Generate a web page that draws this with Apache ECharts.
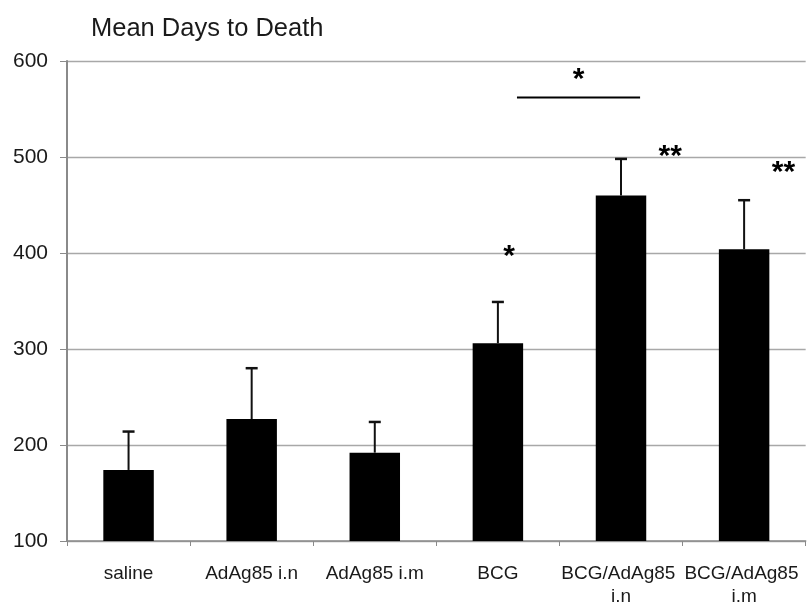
<!DOCTYPE html>
<html>
<head>
<meta charset="utf-8">
<script src="https://cdn.jsdelivr.net/npm/echarts@6/dist/echarts.min.js"></script>
<style>
html,body{margin:0;padding:0;background:#fff;}
#chart{width:807px;height:608px;}
</style>
</head>
<body>
<div id="chart"></div>
<script>
// ---- data ----
const categories = ['saline', 'AdAg85 i.n', 'AdAg85 i.m', 'BCG', 'BCG/AdAg85 i.n', 'BCG/AdAg85 i.m'];
const meanDays = [174, 227, 192, 306, 460, 404];
const errorUpper = [214, 280, 224, 349, 498, 455];
const yMin = 100, yMax = 600, yStep = 100;
// significance markers
const starCategory = [3, 4, 5];
const starValue = [396, 500, 484];
const starText = ['*', '**', '**'];
// bracket between BCG and BCG/AdAg85 i.n
const bracketFrom = 3, bracketTo = 4;
const bracketValue = 562;
const bracketStarValue = 580;
const bracketText = '*';

// ---- presentation ----
const starShift = [0.09, 0.40, 0.32];   // fraction of band width to the right
const bracketShift = 0.155;
const FONT = 'Liberation Sans, Arial, sans-serif';

const chart = echarts.init(document.getElementById('chart'));

const errData = categories.map((c, i) => [i, meanDays[i], errorUpper[i]]);
const starData = starCategory.map((c, i) => [c, starValue[i], i]);

chart.setOption({
  animation: false,
  backgroundColor: '#fff',
  title: {
    text: 'Mean Days to Death',
    left: 86, top: 11,
    textStyle: {fontFamily: FONT, fontSize: 25.5, fontWeight: 'normal', color: '#1a1a1a'}
  },
  grid: {left: 67, right: 0, top: 61, bottom: 61, containLabel: false},
  xAxis: {
    type: 'category',
    data: categories,
    axisLine: {lineStyle: {color: '#8a8a8a', width: 1.5}},
    axisTick: {show: true, length: 5, lineStyle: {color: '#8a8a8a'}},
    axisLabel: {
      fontFamily: FONT, fontSize: 19, color: '#1a1a1a', margin: 21,
      width: 120, overflow: 'break', lineHeight: 23, interval: 0
    },
    splitLine: {show: false}
  },
  yAxis: {
    type: 'value',
    min: yMin, max: yMax, interval: yStep,
    axisLine: {show: true, lineStyle: {color: '#8a8a8a', width: 2}},
    axisTick: {show: true, length: 7, lineStyle: {color: '#8a8a8a'}},
    axisLabel: {fontFamily: FONT, fontSize: 21, color: '#1a1a1a', margin: 19},
    splitLine: {show: true, lineStyle: {color: '#a8a8a8', width: 1.3}}
  },
  series: [
    {
      type: 'bar',
      data: meanDays,
      barWidth: '41%',
      itemStyle: {color: '#000'},
      z: 2
    },
    {
      type: 'custom',
      data: errData,
      z: 3,
      renderItem: function (params, api) {
        const x = api.value(0);
        const top = api.coord([x, api.value(2)]);
        const base = api.coord([x, api.value(1)]);
        const cap = 6;
        const st = {stroke: '#111', lineWidth: 2};
        return {
          type: 'group',
          children: [
            {type: 'line', shape: {x1: top[0], y1: top[1], x2: base[0], y2: base[1]}, style: st},
            {type: 'line', shape: {x1: top[0] - cap, y1: top[1], x2: top[0] + cap, y2: top[1]}, style: {stroke: '#111', lineWidth: 2.5}}
          ]
        };
      }
    },
    {
      type: 'custom',
      data: starData,
      z: 4,
      renderItem: function (params, api) {
        const idx = api.value(2);
        const p = api.coord([api.value(0), api.value(1)]);
        const bw = api.size([1, 0])[0];
        return {
          type: 'text',
          x: p[0] + starShift[idx] * bw,
          y: p[1],
          style: {text: starText[idx], fontFamily: FONT, fontSize: 30, fontWeight: 'bold', fill: '#000', align: 'center', verticalAlign: 'middle'}
        };
      }
    },
    {
      type: 'custom',
      data: [[bracketFrom, bracketValue, bracketTo, bracketStarValue]],
      z: 4,
      renderItem: function (params, api) {
        const a = api.coord([api.value(0), api.value(1)]);
        const b = api.coord([api.value(2), api.value(1)]);
        const s = api.coord([api.value(0), api.value(3)]);
        const bw = api.size([1, 0])[0];
        const x1 = a[0] + bracketShift * bw, x2 = b[0] + bracketShift * bw;
        return {
          type: 'group',
          children: [
            {type: 'line', shape: {x1: x1, y1: a[1], x2: x2, y2: a[1]}, style: {stroke: '#000', lineWidth: 2}},
            {type: 'text', x: (x1 + x2) / 2, y: s[1],
             style: {text: bracketText, fontFamily: FONT, fontSize: 30, fontWeight: 'bold', fill: '#000', align: 'center', verticalAlign: 'middle'}}
          ]
        };
      }
    }
  ]
});
</script>
</body>
</html>
